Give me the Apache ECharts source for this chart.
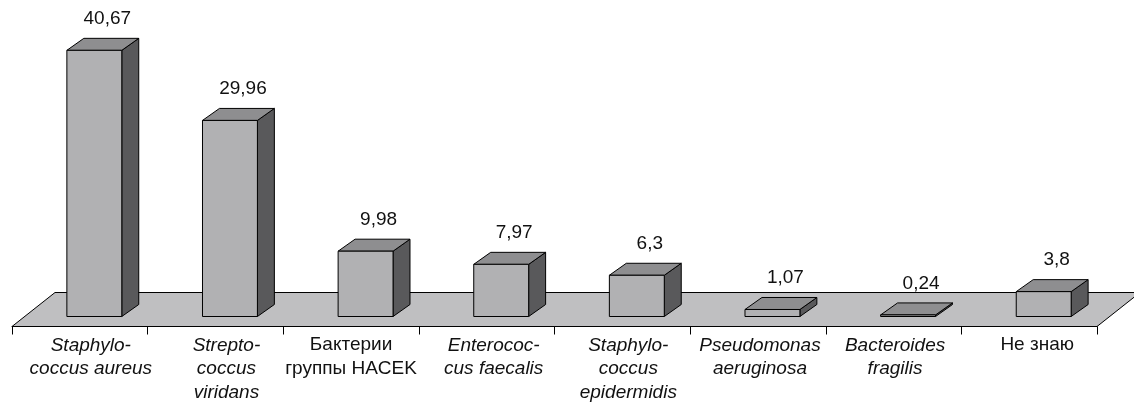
<!DOCTYPE html>
<html>
<head>
<meta charset="utf-8">
<script src="https://cdn.jsdelivr.net/npm/echarts@6/dist/echarts.min.js"></script>
<style>
  html, body { margin: 0; padding: 0; background: #fff; }
  #chart { width: 1134px; height: 404px; }
</style>
</head>
<body>
<div id="chart"></div>
<script>
// Categories (line breaks follow the printed hyphenation)
const categories = [
  'Staphylo-\ncoccus aureus',
  'Strepto-\ncoccus\nviridans',
  'Бактерии\nгруппы HACEK',
  'Enterococ-\ncus faecalis',
  'Staphylo-\ncoccus\nepidermidis',
  'Pseudomonas\naeruginosa',
  'Bacteroides\nfragilis',
  'Не знаю'
];
// Latin species names are set in italics
const italicNames = [true, true, false, true, true, true, true, false];
// Share of answers, %
const values = [40.67, 29.96, 9.98, 7.97, 6.3, 1.07, 0.24, 3.8];

// Horizontal nudge of each category caption, px
const captionShift = [11, 11, 0, 7, 6, 2, 1.5, 8];

const FONT = '"Liberation Sans", Arial, sans-serif';
const COL_FRONT = '#b1b1b3';
const COL_TOP = '#8e8e90';
const COL_SIDE = '#59595b';
const COL_FLOOR = '#bfbfc1';

const chart = echarts.init(document.getElementById('chart'), null, { renderer: 'canvas' });

function fmt(v) { return String(v).replace('.', ','); }

// 3D box for each category
function renderBox(params, api) {
  const idx = api.value(0);
  const v = api.value(1);
  const base = api.coord([idx, 0]);
  const top = api.coord([idx, v]);
  const band = api.size([1, 0])[0];
  const w = band * 0.405;
  const cx = base[0] + band * 0.107;
  const dx = band * 0.125, dy = -12;
  const x0 = cx - w / 2, x1 = cx + w / 2;
  const yb = base[1], yt = top[1];
  const stroke = { stroke: '#000', lineWidth: 1, lineJoin: 'round' };
  return {
    type: 'group',
    children: [
      { type: 'polygon', shape: { points: [[x1, yt], [x1 + dx, yt + dy], [x1 + dx, yb + dy], [x1, yb]] },
        style: Object.assign({ fill: COL_SIDE }, stroke) },
      { type: 'polygon', shape: { points: [[x0, yt], [x1, yt], [x1 + dx, yt + dy], [x0 + dx, yt + dy]] },
        style: Object.assign({ fill: COL_TOP }, stroke) },
      { type: 'rect', shape: { x: x0, y: yt, width: w, height: yb - yt },
        style: Object.assign({ fill: COL_FRONT }, stroke) },
      { type: 'text', x: cx + 13, y: yt + dy - 10,
        style: { text: fmt(v), fill: '#111', font: '19px ' + FONT, align: 'center', verticalAlign: 'bottom' } }
    ]
  };
}

// Perspective floor under the boxes
function renderFloor(params, api) {
  const band = api.size([1, 0])[0];
  const first = api.coord([0, 0]);
  const last = api.coord([categories.length - 1, 0]);
  const left = first[0] - band / 2;
  const right = last[0] + band / 2;
  const yFront = first[1] + 10;
  const yBack = first[1] - 24;
  const d = 43;
  return {
    type: 'polygon',
    shape: { points: [[left, yFront], [right, yFront], [right + d, yBack], [left + d, yBack]] },
    style: { fill: COL_FLOOR, stroke: '#000', lineWidth: 1 }
  };
}

const option = {
  animation: false,
  backgroundColor: '#fff',
  grid: { left: 12, right: 37, top: 22, bottom: 87 },
  xAxis: {
    type: 'category',
    z: 5,
    data: categories.map((c, i) => ({
      value: c,
      textStyle: {
        fontStyle: italicNames[i] ? 'italic' : 'normal',
        padding: [0, 0, 0, captionShift[i] * 2]
      }
    })),
    offset: 10,
    axisLine: { show: true, onZero: false, lineStyle: { color: '#000', width: 1 } },
    axisTick: { show: true, length: 8, lineStyle: { color: '#000', width: 1 } },
    axisLabel: {
      interval: 0, margin: 7, color: '#111',
      fontFamily: FONT, fontSize: 19, lineHeight: 23.5, align: 'center'
    },
    splitLine: { show: false }
  },
  yAxis: { type: 'value', min: 0, max: 45, show: false, splitLine: { show: false } },
  series: [
    { type: 'custom', renderItem: renderFloor, data: [[0, 0]], clip: false, z: 1, silent: true },
    { type: 'custom', renderItem: renderBox, data: values.map((v, i) => [i, v]), clip: false, z: 3 }
  ]
};

chart.setOption(option);
</script>
</body>
</html>
